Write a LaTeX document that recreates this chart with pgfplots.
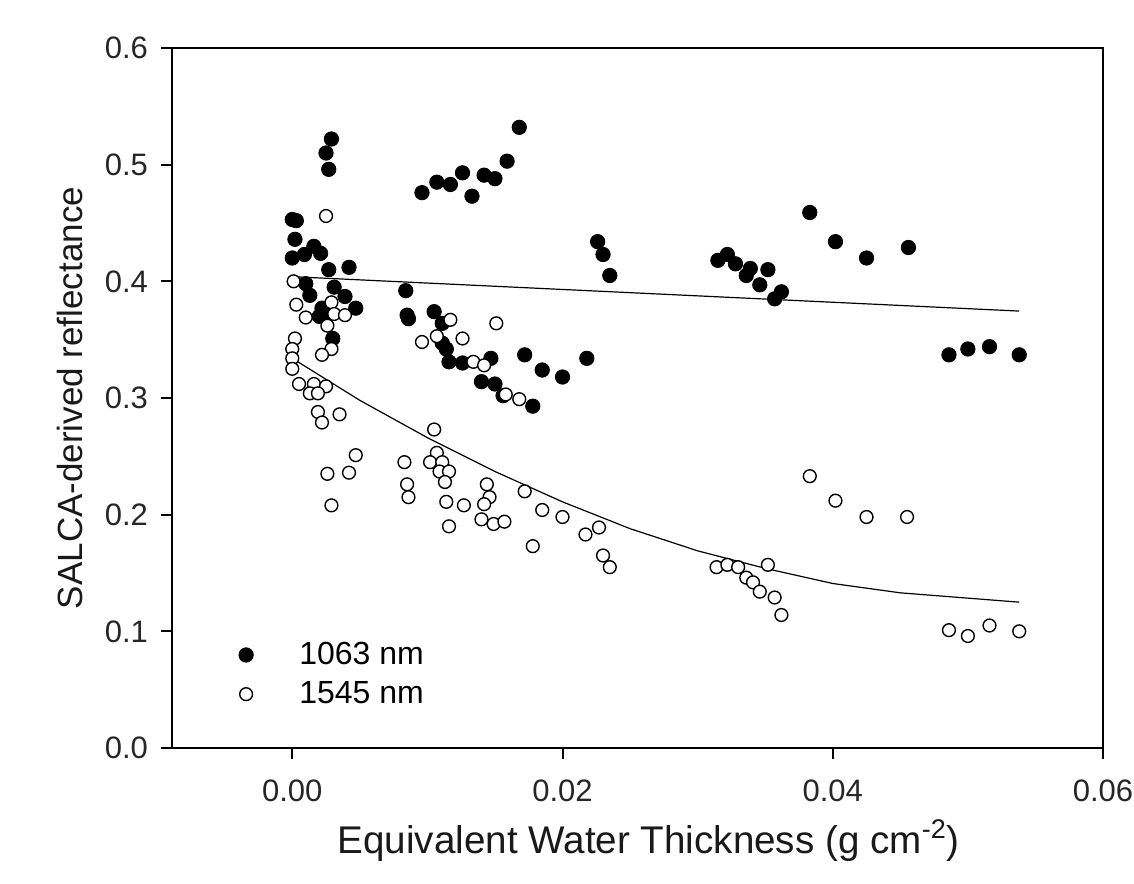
\documentclass[border=0pt]{standalone}
\usepackage{fontspec}
\setmainfont{Liberation Sans}
\usepackage{pgfplots}
\pgfplotsset{compat=1.18}

\begin{document}
\begin{tikzpicture}
\begin{axis}[
  name=ax,
  scale only axis,
  width=465.5pt, height=350pt,
  xmin=-0.0089, xmax=0.06,
  ymin=0, ymax=0.6,
  xtick={0,0.02,0.04,0.06},
  ytick={0,0.1,0.2,0.3,0.4,0.5,0.6},
  tick pos=left,
  tick align=outside,
  major tick length=5.5pt,
  axis line style={line width=1pt},
  tick style={line width=1pt, black},
  /pgf/number format/assume math mode=true,
  xticklabel style={yshift=-7pt, /pgf/number format/.cd, fixed, fixed zerofill, precision=2},
  yticklabel style={xshift=-3pt, /pgf/number format/.cd, fixed, fixed zerofill, precision=1},
  scaled x ticks=false, scaled y ticks=false,
  ticklabel style={font=\fontsize{15.5}{19}\selectfont, text=black!85},
  xlabel={Equivalent Water Thickness (g cm\textsuperscript{-2})},
  ylabel={SALCA-derived reflectance},
  label style={text=black!90},
  xlabel style={font=\fontsize{19.3}{23}\selectfont, at={(axis description cs:0.512,-0.132)}, anchor=center},
  ylabel style={font=\fontsize{17.5}{21}\selectfont, at={(axis description cs:-0.11,0.5)}, anchor=center},
  legend style={draw=none, fill=none, font=\fontsize{16}{19}\selectfont,
    at={(axis description cs:0.065,0.163)}, anchor=north west,
    row sep=3pt,
    /tikz/every odd column/.append style={column sep=21pt}},
  legend cell align=left,
]

% 1063 nm
\addplot[only marks, mark=*, mark size=3.6pt, mark options={fill=black, draw=black}] coordinates {
(0.0000,0.453) (0.0003,0.452) (0.0002,0.436) (0.0000,0.420) (0.0009,0.423)
(0.0016,0.430) (0.0021,0.424) (0.0025,0.510) (0.0027,0.496) (0.0029,0.522)
(0.0027,0.410) (0.0042,0.412) (0.0010,0.398) (0.0013,0.388) (0.0031,0.395)
(0.0039,0.387) (0.0022,0.377) (0.0020,0.370) (0.0025,0.372) (0.0047,0.377)
(0.0030,0.351) (0.0084,0.392) (0.0086,0.368) (0.0085,0.371) (0.0096,0.476)
(0.0107,0.485) (0.0117,0.483) (0.0126,0.493) (0.0133,0.473) (0.0142,0.491)
(0.0150,0.488) (0.0159,0.503) (0.0168,0.532) (0.0105,0.374) (0.0111,0.364)
(0.0111,0.347) (0.0114,0.342) (0.0116,0.331) (0.0126,0.330) (0.0147,0.334)
(0.0140,0.314) (0.0150,0.312) (0.0156,0.302) (0.0178,0.293) (0.0172,0.337)
(0.0185,0.324) (0.0200,0.318) (0.0218,0.334) (0.0226,0.434) (0.0230,0.423)
(0.0235,0.405) (0.0315,0.418) (0.0322,0.423) (0.0328,0.415) (0.0336,0.405)
(0.0339,0.411) (0.0352,0.410) (0.0346,0.397) (0.0357,0.385) (0.0362,0.391)
(0.0383,0.459) (0.0402,0.434) (0.0425,0.420) (0.0456,0.429) (0.0486,0.337)
(0.0500,0.342) (0.0516,0.344) (0.0538,0.337)
};
\addlegendentry{1063 nm}

% 1545 nm
\addplot[only marks, mark=*, mark size=3.2pt, mark options={fill=white, draw=black, line width=0.7pt}] coordinates {
(0.0025,0.456) (0.0001,0.400) (0.0003,0.380) (0.0010,0.369) (0.0029,0.382)
(0.0031,0.372) (0.0039,0.371) (0.0026,0.362) (0.0002,0.351) (0.0000,0.342)
(0.0000,0.334) (0.0000,0.325) (0.0029,0.342) (0.0022,0.337) (0.0005,0.312)
(0.0016,0.312) (0.0025,0.310) (0.0013,0.304) (0.0019,0.304) (0.0019,0.288)
(0.0035,0.286) (0.0022,0.279) (0.0047,0.251) (0.0042,0.236) (0.0026,0.235)
(0.0029,0.208) (0.0083,0.245) (0.0085,0.226) (0.0086,0.215) (0.0096,0.348)
(0.0107,0.353) (0.0117,0.367) (0.0126,0.351) (0.0151,0.364) (0.0134,0.331)
(0.0142,0.328) (0.0158,0.303) (0.0168,0.299) (0.0105,0.273) (0.0107,0.253)
(0.0102,0.245) (0.0111,0.245) (0.0109,0.237) (0.0116,0.237) (0.0113,0.228)
(0.0114,0.211) (0.0127,0.208) (0.0116,0.190) (0.0144,0.226) (0.0146,0.215)
(0.0142,0.209) (0.0140,0.196) (0.0149,0.192) (0.0157,0.194) (0.0172,0.220)
(0.0185,0.204) (0.0200,0.198) (0.0178,0.173) (0.0217,0.183) (0.0227,0.189)
(0.0230,0.165) (0.0235,0.155) (0.0383,0.233) (0.0402,0.212) (0.0425,0.198)
(0.0455,0.198) (0.0314,0.155) (0.0322,0.157) (0.0330,0.155) (0.0336,0.146)
(0.0341,0.142) (0.0346,0.134) (0.0352,0.157) (0.0357,0.129) (0.0362,0.114)
(0.0486,0.101) (0.0500,0.096) (0.0516,0.105) (0.0538,0.100)
};
\addlegendentry{1545 nm}

% fitted lines
\addplot[black, line width=0.6pt, forget plot] coordinates {(0,0.404) (0.0538,0.3745)};
\addplot[black, line width=0.6pt, forget plot] coordinates {
(0,0.334) (0.005,0.298) (0.010,0.266) (0.015,0.237) (0.020,0.211) (0.025,0.188)
(0.030,0.169) (0.035,0.154) (0.040,0.141) (0.045,0.133) (0.0538,0.125)
};
\end{axis}
\draw[line width=1pt] (ax.south west) -- ++(-5.5pt,0);
\draw[line width=1pt] (ax.north west) -- ++(-5.5pt,0);
\pgfresetboundingbox
\path (ax.south west) +(-86pt,-67.5pt) (ax.north east) +(15.5pt,24pt);
\end{tikzpicture}
\end{document}
